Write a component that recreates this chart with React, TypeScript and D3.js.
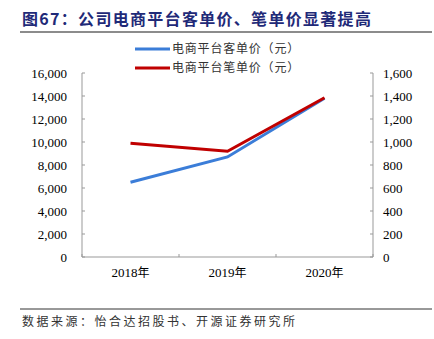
import React from "react";
import * as d3 from "d3";

const categories = ["2018年", "2019年", "2020年"];
const customerPrice = [6500, 8700, 13800];
const orderPrice = [990, 920, 1385];
const leftTicks = [0, 2000, 4000, 6000, 8000, 10000, 12000, 14000, 16000];
const rightTicks = [0, 200, 400, 600, 800, 1000, 1200, 1400, 1600];
const seriesNames = ["电商平台客单价（元）", "电商平台笔单价（元）"];
const title = "图67：公司电商平台客单价、笔单价显著提高";
const source = "数据来源：怡合达招股书、开源证券研究所";

const BLUE = "#3B7DD8";
const RED = "#C00000";
const CJK = "'Noto Sans CJK SC', sans-serif";
const SERIF = "'Liberation Serif', 'Times New Roman', serif";

export default function App() {
  const W = 434, H = 339;
  const x0 = 82, x1 = 373, yTop = 73, yBot = 257;
  const xs = d3.scaleBand<string>().domain(categories).range([x0, x1]);
  const yl = d3.scaleLinear().domain([0, 16000]).range([yBot, yTop]);
  const yr = d3.scaleLinear().domain([0, 1600]).range([yBot, yTop]);
  const cx = (c: string) => (xs(c) as number) + xs.bandwidth() / 2;
  const lineL = d3.line<number>().x((_, i) => cx(categories[i])).y((d) => yl(d));
  const lineR = d3.line<number>().x((_, i) => cx(categories[i])).y((d) => yr(d));
  const fmt = d3.format(",");
  const bounds = [x0, ...categories.slice(1).map((c) => xs(c) as number), x1];

  return (
    <svg width={W} height={H} style={{ position: "absolute", left: 0, top: 0, background: "#fff" }}>
      <text x={22} y={25} fontFamily={CJK} fontWeight={700} fontSize={16} fill="#1F2A78" letterSpacing={1.3}>
        {title}
      </text>
      <line x1={20} x2={432} y1={32} y2={32} stroke="#8C8C8C" strokeWidth={2} />

      {/* legend */}
      <line x1={135} x2={170} y1={49} y2={49} stroke={BLUE} strokeWidth={3} />
      <text x={172} y={53} fontFamily={CJK} fontSize={12} fill="#333" letterSpacing={0.8}>{seriesNames[0]}</text>
      <line x1={135} x2={170} y1={68} y2={68} stroke={RED} strokeWidth={3} />
      <text x={172} y={72} fontFamily={CJK} fontSize={12} fill="#333" letterSpacing={0.8}>{seriesNames[1]}</text>

      {/* left axis */}
      <line x1={x0} x2={x0} y1={yTop} y2={yBot} stroke="#999" />
      {leftTicks.map((t) => (
        <g key={"l" + t}>
          <line x1={x0} x2={x0 + 3} y1={yl(t)} y2={yl(t)} stroke="#999" />
          <text x={67} y={yl(t) + 4.5} textAnchor="end" fontFamily={SERIF} fontSize={13} fill="#000">{fmt(t)}</text>
        </g>
      ))}
      {/* right axis */}
      <line x1={x1} x2={x1} y1={yTop} y2={yBot} stroke="#999" />
      {rightTicks.map((t) => (
        <g key={"r" + t}>
          <line x1={x1 - 3} x2={x1} y1={yr(t)} y2={yr(t)} stroke="#999" />
          <text x={383} y={yr(t) + 4.5} textAnchor="start" fontFamily={SERIF} fontSize={13} fill="#000">{fmt(t)}</text>
        </g>
      ))}
      {/* x axis */}
      <line x1={x0} x2={x1} y1={yBot} y2={yBot} stroke="#999" />
      {bounds.map((b, i) => (
        <line key={"xb" + i} x1={b} x2={b} y1={yBot} y2={yBot - 3} stroke="#999" />
      ))}
      {categories.map((c) => (
        <text key={c} x={cx(c)} y={277} textAnchor="middle" fontFamily={SERIF} fontSize={13} fill="#000">
          <tspan>{c.slice(0, 4)}</tspan>
          <tspan fontFamily={CJK} fontSize={12}>{c.slice(4)}</tspan>
        </text>
      ))}

      <path d={lineL(customerPrice) || ""} fill="none" stroke={BLUE} strokeWidth={3} />
      <path d={lineR(orderPrice) || ""} fill="none" stroke={RED} strokeWidth={3} />

      <line x1={20} x2={432} y1={309} y2={309} stroke="#333" strokeWidth={1} />
      <text x={22} y={326} fontFamily={CJK} fontSize={12} fill="#333" letterSpacing={2.5}>{source}</text>
    </svg>
  );
}
